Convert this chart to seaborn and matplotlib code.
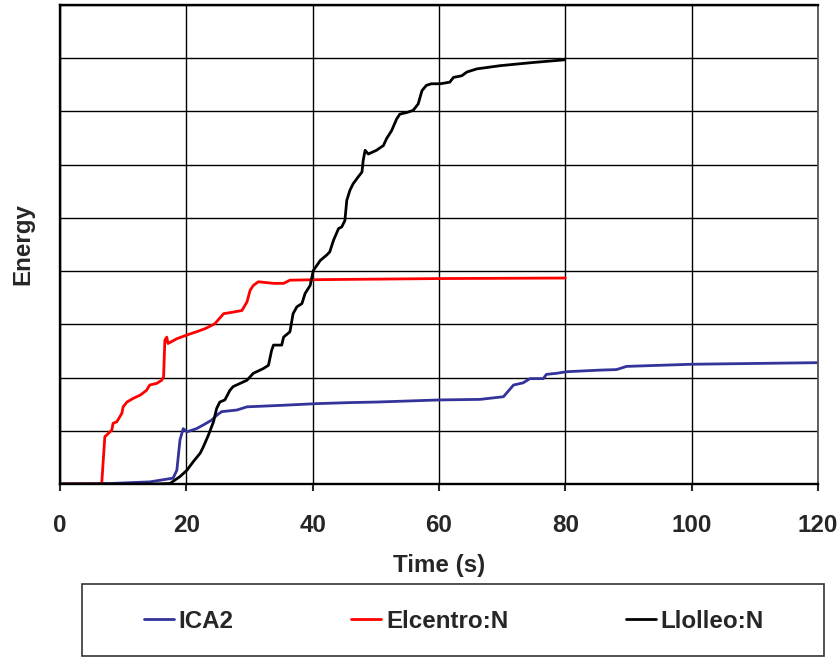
import numpy as np
import pandas as pd
import matplotlib
matplotlib.use('Agg')
import matplotlib.pyplot as plt
import seaborn as sns
from matplotlib.patches import Rectangle

sns.set_style("white")
plt.rcParams['font.family'] = ['Liberation Sans', 'DejaVu Sans']

# ICA2
ica2_t = [0, 8, 14.2, 17.9, 18.5, 19.0, 19.5, 20.1, 21.6, 22.7, 24.0, 24.8, 25.6, 28.0, 29.6,
          35.4, 40.6, 45.9, 50.1, 60.2, 66.5, 70.2, 71.8, 73.3, 74.4, 76.5, 77.0, 78.6, 80.2,
          85.5, 88.1, 89.7, 100.0, 120.0]
ica2_e = [0, 0.01, 0.04, 0.11, 0.26, 0.83, 1.04, 0.98, 1.04, 1.11, 1.20, 1.29, 1.36, 1.39, 1.45,
          1.48, 1.51, 1.53, 1.54, 1.58, 1.59, 1.64, 1.86, 1.90, 1.98, 1.98, 2.06, 2.08, 2.11,
          2.14, 2.15, 2.21, 2.25, 2.28]

# Elcentro:N
elc_t = [0, 6.6, 7.1, 7.4, 7.9, 8.2, 8.4, 9.0, 9.8, 10.0, 10.6, 11.6, 12.7, 13.7, 14.2, 15.3,
         16.1, 16.4, 16.6, 16.9, 17.1, 18.5, 20.1, 21.6, 23.0, 24.5, 25.9, 27.4, 28.8, 29.6,
         30.1, 30.6, 31.4, 33.8, 35.4, 36.4, 41.2, 60.0, 80.0]
elc_e = [0, 0, 0.89, 0.92, 0.98, 1.01, 1.14, 1.17, 1.33, 1.45, 1.54, 1.61, 1.67, 1.76, 1.86, 1.89,
         1.95, 2.01, 2.70, 2.76, 2.64, 2.73, 2.80, 2.86, 2.92, 3.01, 3.20, 3.23, 3.26, 3.42,
         3.64, 3.73, 3.80, 3.77, 3.77, 3.83, 3.84, 3.86, 3.87]

# Llolleo:N
llo_t = [0, 15.0, 17.4, 19.0, 20.1, 21.1, 22.2, 22.7, 23.5, 24.3, 24.8, 25.3, 26.1, 26.9, 27.4,
         28.5, 29.6, 30.6, 32.2, 33.0, 33.5, 33.8, 35.1, 35.4, 36.4, 36.9, 37.5, 38.3, 38.8,
         39.6, 40.1, 41.2, 42.2, 42.7, 43.3, 44.1, 44.6, 45.1, 45.4, 45.9, 46.4, 47.2, 47.8,
         48.0, 48.3, 48.8, 50.1, 51.2, 51.7, 52.5, 53.3, 53.8, 54.9, 55.9, 56.7, 57.3, 58.0,
         58.8, 60.2, 61.7, 62.3, 63.6, 64.4, 66.0, 69.7, 74.9, 79.9]
llo_e = [0, 0, 0.01, 0.14, 0.26, 0.42, 0.58, 0.70, 0.92, 1.17, 1.42, 1.54, 1.58, 1.76, 1.83,
         1.89, 1.95, 2.08, 2.17, 2.23, 2.51, 2.61, 2.61, 2.76, 2.86, 3.20, 3.33, 3.39, 3.58,
         3.73, 4.01, 4.20, 4.30, 4.36, 4.58, 4.80, 4.83, 4.95, 5.33, 5.52, 5.64, 5.77, 5.86,
         6.08, 6.27, 6.20, 6.27, 6.36, 6.49, 6.64, 6.86, 6.95, 6.98, 7.02, 7.14, 7.39, 7.49,
         7.52, 7.52, 7.55, 7.64, 7.67, 7.74, 7.80, 7.86, 7.92, 7.97]

names = ['ICA2', 'Elcentro:N', 'Llolleo:N']
colors = ['#333399', '#FF0000', '#000000']

df = pd.concat([
    pd.DataFrame({'t': ica2_t, 'e': ica2_e, 'series': names[0]}),
    pd.DataFrame({'t': elc_t, 'e': elc_e, 'series': names[1]}),
    pd.DataFrame({'t': llo_t, 'e': llo_e, 'series': names[2]}),
])

fig = plt.figure(figsize=(8.39, 6.57), dpi=100)
ax = fig.add_axes([0.0715, 0.2633, 0.9035, 0.7291])

sns.lineplot(data=df, x='t', y='e', hue='series', palette=dict(zip(names, colors)),
             estimator=None, sort=False, linewidth=2.0, ax=ax)

ax.set_xlim(0, 120)
ax.set_ylim(0, 9)
ax.set_xticks(np.arange(0, 121, 20))
ax.set_yticks(np.arange(0, 10, 1))
ax.set_yticklabels([])
ax.grid(True, color='black', linewidth=1.0)
ax.set_axisbelow(True)

for s in ['left', 'top', 'bottom']:
    ax.spines[s].set_color('black')
    ax.spines[s].set_linewidth(1.7)
ax.spines['right'].set_color('#555555')
ax.spines['right'].set_linewidth(1.3)

fs = 17.4
ax.tick_params(axis='x', direction='out', length=5, width=1.5, pad=16.5,
               labelsize=fs, bottom=True)
ax.tick_params(axis='y', length=0)
for lbl in ax.get_xticklabels():
    lbl.set_fontweight('bold')

ax.set_xlabel('Time (s)', fontsize=fs, fontweight='bold', labelpad=12)
ax.set_ylabel('Energy', fontsize=fs, fontweight='bold', labelpad=15)

# legend box at the bottom
fig.patches.append(Rectangle((82 / 839, 1 / 657), 742 / 839, 72 / 657,
                             transform=fig.transFigure, fill=False,
                             edgecolor='#333333', linewidth=1.2))
handles, labels = ax.get_legend_handles_labels()
ax.legend(handles, labels, ncol=3, mode='expand', frameon=False,
          bbox_to_anchor=(144 / 839, 19 / 657, 620 / 839, 34 / 657),
          bbox_transform=fig.transFigure, loc='center',
          borderpad=0, borderaxespad=0, handlelength=1.24, handletextpad=0.2,
          prop={'weight': 'bold', 'size': fs})

fig.savefig('out.png', dpi=100, facecolor='white')
